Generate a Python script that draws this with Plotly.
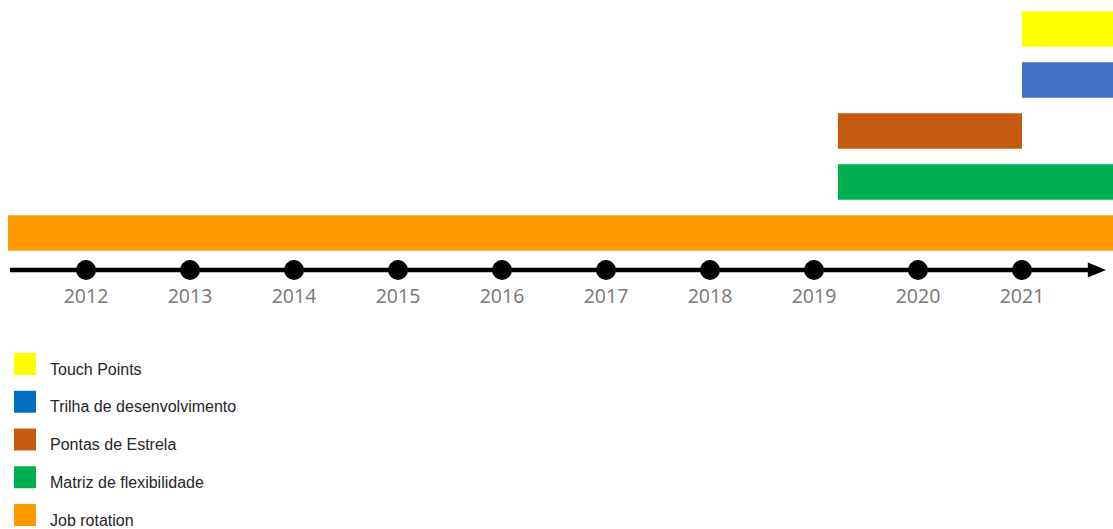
import plotly.graph_objects as go

# Programs on the timeline (bottom to top)
programs = ["Job rotation", "Matriz de flexibilidade", "Pontas de Estrela",
            "Trilha de desenvolvimento", "Touch Points"]
start_year = [2011.25, 2019.23, 2019.23, 2021.0, 2021.0]
end_year = [2022.0, 2022.0, 2021.0, 2022.0, 2022.0]
bar_colors = ["#FF9900", "#00B050", "#C55A11", "#4472C4", "#FFFF00"]
legend_colors = ["#FF9900", "#00B050", "#C55A11", "#0070C0", "#FFFF00"]

# Milestone years on the axis
years = [2012, 2013, 2014, 2015, 2016, 2017, 2018, 2019, 2020, 2021]
year_labels = [str(y) for y in years]

W, H = 1113, 529
X0, X1 = 2011.173, 2021.875      # visible year range
Y0, Y1 = -5.804, 4.569           # vertical range (rows of 1 unit)
AXIS_Y = -0.725
LABEL_Y = -1.285


def px_x(px):
    return X0 + (X1 - X0) * px / W


def px_y(py):
    return Y1 - (Y1 - Y0) * py / H


fig = go.Figure()

for i, name in enumerate(programs):
    fig.add_trace(go.Bar(
        orientation="h",
        y=[i],
        x=[end_year[i] - start_year[i]],
        base=[start_year[i]],
        width=0.7,
        marker=dict(color=bar_colors[i], line=dict(width=0)),
        name=name,
        showlegend=False,
        hoverinfo="skip",
    ))

# Timeline axis line with arrow head
line_start = px_x(10)
line_end = px_x(1092)
tip = px_x(1106)
fig.add_shape(type="line", x0=line_start, x1=line_end, y0=AXIS_Y, y1=AXIS_Y,
              line=dict(color="#000000", width=4.5), layer="above")
half = (Y1 - Y0) * 7.5 / H
fig.add_shape(
    type="path",
    path=f"M {line_end - (tip - line_end) * 0.3},{AXIS_Y + half} L {tip},{AXIS_Y} "
         f"L {line_end - (tip - line_end) * 0.3},{AXIS_Y - half} Z",
    fillcolor="#000000", line=dict(color="#000000", width=0), layer="above")

# Year markers and labels
fig.add_trace(go.Scatter(
    x=years, y=[AXIS_Y] * len(years), mode="markers",
    marker=dict(size=20, color="#000000"),
    showlegend=False, hoverinfo="skip"))
fig.add_trace(go.Scatter(
    x=years, y=[LABEL_Y] * len(years), mode="text",
    text=year_labels, textposition="middle center",
    textfont=dict(family="Open Sans", size=19.5, color="#767676"),
    showlegend=False, hoverinfo="skip"))

# Legend (top entry is the last program)
row_top = 353
row_step = 37.75
for j, idx in enumerate(reversed(range(len(programs)))):
    top = row_top + j * row_step
    fig.add_shape(type="rect", xref="paper", yref="paper",
                  x0=14 / W, x1=36 / W, y0=1 - (top + 22) / H, y1=1 - top / H,
                  fillcolor=legend_colors[idx], line=dict(width=0))
    fig.add_annotation(xref="paper", yref="paper", x=48 / W, y=1 - (top + 16) / H,
                       text=programs[idx], showarrow=False, xanchor="left",
                       yanchor="middle",
                       font=dict(family="Liberation Sans", size=16, color="#262626"))

fig.update_layout(
    width=W, height=H, autosize=False,
    margin=dict(l=0, r=0, t=0, b=0),
    paper_bgcolor="#FFFFFF", plot_bgcolor="#FFFFFF",
    barmode="overlay",
    xaxis=dict(range=[X0, X1], visible=False, fixedrange=True),
    yaxis=dict(range=[Y0, Y1], visible=False, fixedrange=True),
)

fig.write_html("out.html")
